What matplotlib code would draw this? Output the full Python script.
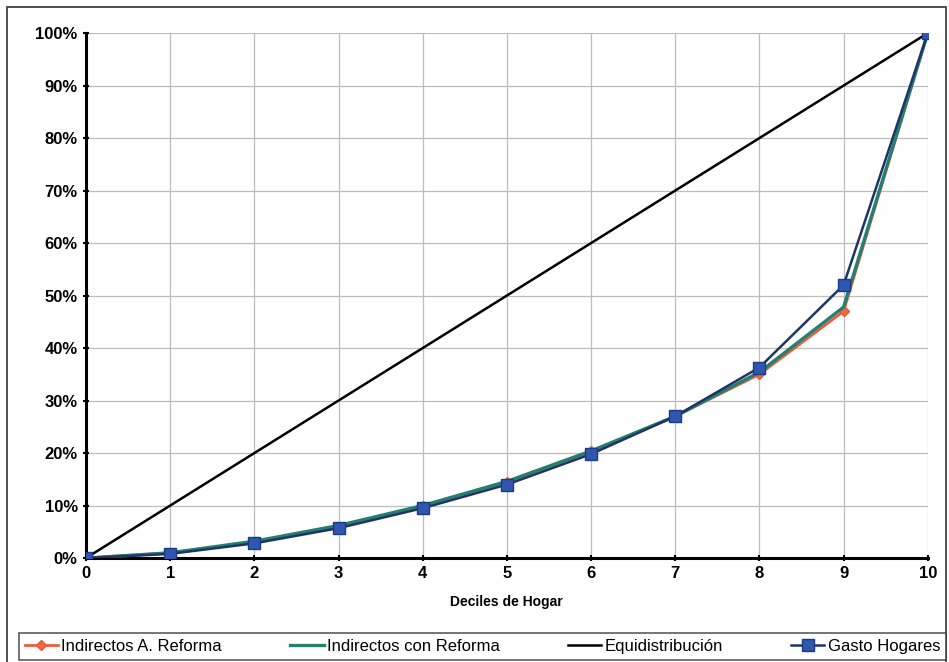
import numpy as np
import matplotlib.pyplot as plt
from matplotlib.patches import Rectangle

# datos
deciles = list(range(11))
indirectos_a_reforma = [0, 1.0, 3.0, 6.0, 10.0, 14.5, 20.3, 27.0, 35.0, 47.0, 100]
indirectos_con_reforma = [0, 1.0, 3.2, 6.2, 10.0, 14.6, 20.4, 27.0, 35.4, 47.8, 100]
equidistribucion = [0, 10, 20, 30, 40, 50, 60, 70, 80, 90, 100]
gasto_hogares = [0, 0.8, 2.8, 5.7, 9.5, 14.0, 19.8, 27.0, 36.3, 52.0, 100]
ytick_labels = [f"{v}%" for v in range(0, 101, 10)]

plt.rcParams['font.family'] = ['Liberation Sans', 'DejaVu Sans']

fig = plt.figure(figsize=(9.49, 6.62), dpi=100)
ax = fig.add_axes([0.0906, 0.157, 0.887, 0.793])

ax.plot(deciles, indirectos_a_reforma, color="#ee5a3c", linewidth=2.0,
        marker="D", markersize=5, markerfacecolor="#ee6a45", markeredgecolor="#e8553a",
        label="Indirectos A. Reforma", zorder=3)
ax.plot(deciles, indirectos_con_reforma, color="#23806f", linewidth=2.4,
        label="Indirectos con Reforma", zorder=4)
ax.plot(deciles, equidistribucion, color="black", linewidth=1.8,
        label="Equidistribución", zorder=2)
ax.plot(deciles, gasto_hogares, color="#1e3466", linewidth=1.8,
        marker="s", markersize=8, markerfacecolor="#2f57b0", markeredgecolor="#1e3a80",
        label="Gasto Hogares", zorder=5)

ax.set_xlim(0, 10)
ax.set_ylim(0, 100)
ax.set_xticks(deciles)
ax.set_yticks(range(0, 101, 10))
ax.set_yticklabels(ytick_labels)
ax.tick_params(axis="both", labelsize=12, width=1.5, length=5, direction="inout")
for lab in ax.get_xticklabels() + ax.get_yticklabels():
    lab.set_fontweight("bold")
ax.grid(True, color="#bdbdbd", linewidth=0.9)
ax.set_axisbelow(True)
for side in ["top", "right"]:
    ax.spines[side].set_visible(False)
for side in ["left", "bottom"]:
    ax.spines[side].set_linewidth(2.2)
ax.set_xlabel("Deciles de Hogar", fontsize=10, fontweight="bold", labelpad=10)

# marco exterior
fig.patches.append(Rectangle((0.007, -0.01), 0.99, 0.999, transform=fig.transFigure,
                             fill=False, edgecolor="#333333", linewidth=1.2))

leg = fig.legend(loc="lower left", bbox_to_anchor=(0.02, 0.003, 0.977, 0.048),
                 mode="expand", ncol=4, fontsize=12,
                 frameon=True, fancybox=False, edgecolor="#333333",
                 handlelength=2.0, handletextpad=0.2, borderpad=0.35,
                 borderaxespad=0.0)
leg.get_frame().set_linewidth(1.2)

fig.savefig("out.png", dpi=100, facecolor="white")
